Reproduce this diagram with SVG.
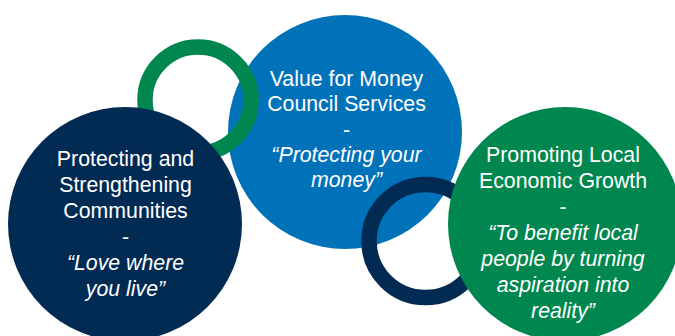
<svg xmlns="http://www.w3.org/2000/svg" width="675" height="336" viewBox="0 0 675 336">
<style>
.t{font-family:"Liberation Sans",Arial,sans-serif;font-size:21.3px;fill:#ffffff;text-anchor:middle}
.i{font-style:italic}
.ring{fill:none;stroke-width:15.5}
</style>
<rect width="675" height="336" fill="#ffffff"/>
<g id="value-for-money">
<circle cx="345" cy="132" r="117" fill="#0072BA"/>
<text class="t" x="346.5" y="85.5">Value for Money</text>
<text class="t" x="346.5" y="111">Council Services</text>
<text class="t" x="346.5" y="137">-</text>
<text class="t i" x="346.5" y="162">“Protecting your</text>
<text class="t i" x="346.5" y="187">money”</text>
</g>
<g id="ring-green">
<circle class="ring" cx="198" cy="100" r="53" stroke="#00874F"/>
</g>
<g id="protecting-communities">
<circle cx="125" cy="224" r="117" fill="#022B54"/>
<text class="t" x="125.5" y="166">Protecting and</text>
<text class="t" x="125.5" y="192">Strengthening</text>
<text class="t" x="125.5" y="218">Communities</text>
<text class="t" x="125.5" y="244">-</text>
<text class="t i" x="125.5" y="270">“Love where</text>
<text class="t i" x="125.5" y="296">you live”</text>
</g>
<g id="ring-navy">
<circle class="ring" cx="425.5" cy="241" r="56.5" stroke="#022B54"/>
</g>
<g id="promoting-growth">
<circle cx="565" cy="224" r="117" fill="#00874F"/>
<text class="t" x="563" y="161.7">Promoting Local</text>
<text class="t" x="563" y="187.7">Economic Growth</text>
<text class="t" x="563" y="213.7">-</text>
<text class="t i" x="563" y="239.7">“To benefit local</text>
<text class="t i" x="563" y="265.7">people by turning</text>
<text class="t i" x="563" y="291.7">aspiration into</text>
<text class="t i" x="563" y="317.7">reality”</text>
</g>
<g id="connectors"/>
</svg>
